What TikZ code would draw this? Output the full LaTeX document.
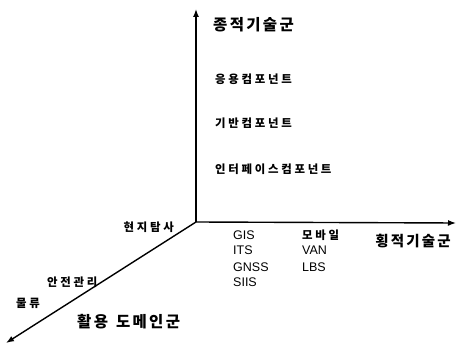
\documentclass[tikz,border=0pt]{standalone}
\usepackage{fontspec}
\setmainfont{Liberation Sans}
\newfontfamily\kr[LetterSpace=15]{Noto Sans CJK KR}
\newfontfamily\krs[LetterSpace=24]{Noto Sans CJK KR}
\usetikzlibrary{arrows.meta}
\begin{document}
\begin{tikzpicture}[x=1pt,y=-1pt,
  axis/.style={line width=1.4pt,-{Latex[length=8pt,width=6pt]}},
  big/.style={inner sep=0pt,font=\kr\bfseries\fontsize{15.5}{18}\selectfont},
  small/.style={inner sep=0pt,anchor=west,font=\krs\bfseries\fontsize{11.4}{13}\selectfont},
  lat/.style={inner sep=0pt,anchor=west,font=\fontsize{12.5}{15}\selectfont}]
\useasboundingbox (0,0) rectangle (459,345);
\coordinate (o) at (196,222);
\coordinate (top) at (196,9);
\coordinate (right) at (456,223);
\coordinate (low) at (6,343);
\draw[axis] (o) -- (top);
\draw[axis] (o) -- (right);
\draw[axis] (o) -- (low);
\node[big,anchor=west] (v) at (213,25) {종적기술군};
\node[small] (a1) at (215,79) {응용컴포넌트};
\node[small] (a2) at (215,123) {기반컴포넌트};
\node[small] (a3) at (215,169) {인터페이스컴포넌트};
\node[big,font=\kr\bfseries\fontsize{14.5}{16}\selectfont] (h) at (413,241) {횡적기술군};
\node[small,anchor=east] (d1) at (174,227) {현지탐사};
\node[small] (d2) at (47,282) {안전관리};
\node[small] (d3) at (16,303) {물류};
\node[big,anchor=west,font=\kr\bfseries\fontsize{15.5}{17}\selectfont] (d) at (77,322) {활용\hspace{8pt}도메인군};
\node[lat] (g1) at (233,235) {GIS};
\node[lat] (g2) at (233,250) {ITS};
\node[lat] (g3) at (233,267) {GNSS};
\node[lat] (g4) at (233,282) {SIIS};
\node[small] (m1) at (302,235) {모바일};
\node[lat] (m2) at (302,250) {VAN};
\node[lat] (m3) at (302,267) {LBS};
\end{tikzpicture}
\end{document}
